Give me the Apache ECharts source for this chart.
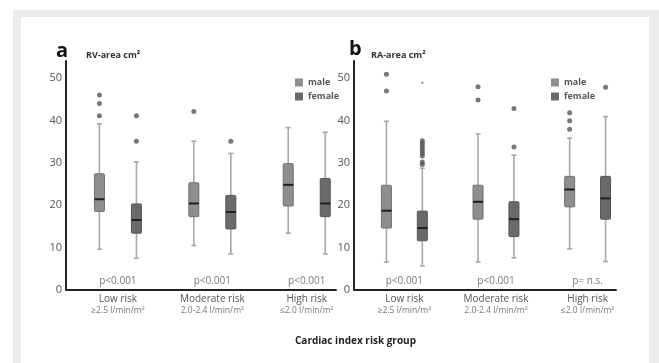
<!DOCTYPE html>
<html lang="en">
<head>
<meta charset="UTF-8">
<title>RV / RA area by cardiac index risk group</title>
<script src="https://cdn.jsdelivr.net/npm/echarts@6/dist/echarts.min.js"></script>
<style>
  html, body { margin: 0; padding: 0; background: #fff; }
  #main { width: 659px; height: 363px; }
</style>
</head>
<body>
<div id="main"></div>
<script type="text/javascript">
"use strict";

var groups = ['Low risk', 'Moderate risk', 'High risk'];
var groupSub = ['≥2.5 l/min/m²', '2.0-2.4 l/min/m²', '≤2.0 l/min/m²'];
var yTicks = [0, 10, 20, 30, 40, 50];

// [min, Q1, median, Q3, max] per risk group
var rvMale = [
    [9.6, 18.5, 21.4, 27.4, 39.2],
    [10.5, 17.3, 20.4, 25.3, 35.1],
    [13.4, 19.8, 24.8, 29.8, 38.3]
];
var rvFemale = [
    [7.5, 13.4, 16.5, 20.3, 30.2],
    [8.5, 14.4, 18.4, 22.3, 32.2],
    [8.5, 17.3, 20.4, 26.3, 37.2]
];
var raMale = [
    [6.6, 14.6, 18.7, 24.7, 39.8],
    [6.6, 16.7, 20.8, 24.7, 36.8],
    [9.7, 19.6, 23.7, 26.8, 35.8]
];
var raFemale = [
    [5.7, 11.6, 14.6, 18.6, 28.7],
    [7.6, 12.6, 16.7, 20.8, 31.8],
    [6.7, 16.7, 21.6, 26.8, 40.9]
];

// outliers: [group index, value]
var rvMaleOut = [[0, 46], [0, 44], [0, 41.1], [1, 42.1]];
var rvFemaleOut = [[0, 41.1], [0, 35.1], [1, 35.1]];
var raMaleOut = [[0, 50.9], [0, 46.9], [1, 47.9], [1, 44.8], [2, 41.8], [2, 39.9], [2, 37.9]];
var raFemaleOut = [[0, 35.2], [0, 34.6], [0, 34.0], [0, 33.4], [0, 32.8], [0, 32.2], [0, 31.6],
    [0, 30.2], [0, 29.6], [1, 33.7], [1, 42.8], [2, 47.8]];
var raFemaleExtreme = [[0, 48.9]];

var rvP = ['p<0.001', 'p<0.001', 'p<0.001'];
var raP = ['p<0.001', 'p<0.001', 'p= n.s.'];

var maleColor = '#8e8e8e';
var femaleColor = '#6a6a6a';
var shift = 0.196;

function boxSeries(name, stats, offset, color, border, idx) {
    return {
        name: name,
        type: 'custom',
        xAxisIndex: idx,
        yAxisIndex: idx,
        itemStyle: { color: color },
        data: stats.map(function (s, g) {
            return [g + offset].concat(s);
        }),
        encode: { x: 0, y: [1, 2, 3, 4, 5] },
        renderItem: function (params, api) {
            var x = api.value(0);
            var pMin = api.coord([x, api.value(1)]);
            var pQ1 = api.coord([x, api.value(2)]);
            var pMed = api.coord([x, api.value(3)]);
            var pQ3 = api.coord([x, api.value(4)]);
            var pMax = api.coord([x, api.value(5)]);
            var cx = pMin[0];
            var hw = 5, cap = 2.5;
            var wStyle = { stroke: '#a8a8a8', lineWidth: 1.6 };
            return {
                type: 'group',
                children: [
                    { type: 'line', shape: { x1: cx, y1: pMax[1], x2: cx, y2: pQ3[1] }, style: wStyle },
                    { type: 'line', shape: { x1: cx, y1: pQ1[1], x2: cx, y2: pMin[1] }, style: wStyle },
                    { type: 'line', shape: { x1: cx - cap, y1: pMax[1], x2: cx + cap, y2: pMax[1] }, style: wStyle },
                    { type: 'line', shape: { x1: cx - cap, y1: pMin[1], x2: cx + cap, y2: pMin[1] }, style: wStyle },
                    {
                        type: 'rect',
                        shape: { x: cx - hw, y: pQ3[1], width: hw * 2, height: pQ1[1] - pQ3[1], r: 1 },
                        style: { fill: color, stroke: border, lineWidth: 1 }
                    },
                    {
                        type: 'line',
                        shape: { x1: cx - hw, y1: pMed[1], x2: cx + hw, y2: pMed[1] },
                        style: { stroke: '#1e1e1e', lineWidth: 2 }
                    }
                ]
            };
        }
    };
}

function outlierSeries(points, offset, idx, size, color) {
    return {
        name: 'outlier',
        type: 'scatter',
        xAxisIndex: idx,
        yAxisIndex: idx,
        symbolSize: size,
        itemStyle: { color: color },
        data: points.map(function (p) { return [p[0] + offset, p[1]]; }),
        silent: true
    };
}

function pSeries(labels, idx) {
    return {
        name: 'p',
        type: 'scatter',
        xAxisIndex: idx,
        yAxisIndex: idx,
        symbolSize: 1,
        itemStyle: { color: 'rgba(0,0,0,0)' },
        label: {
            show: true,
            position: 'inside',
            formatter: function (p) { return labels[p.dataIndex]; },
            color: '#555',
            fontSize: 10,
            fontFamily: 'Open Sans'
        },
        data: labels.map(function (l, g) { return [g, 2]; }),
        silent: true
    };
}

function xAxisDef(idx) {
    return {
        type: 'value',
        gridIndex: idx,
        min: -0.55,
        max: 2.31,
        splitLine: { show: false },
        axisTick: { show: false },
        axisLine: { show: true, onZero: false, lineStyle: { color: '#222', width: 2 } },
        axisLabel: {
            customValues: [0, 1, 2],
            margin: 4,
            formatter: function (v) {
                var g = Math.round(v);
                return '{a|' + groups[g] + '}\n{b|' + groupSub[g] + '}';
            },
            rich: {
                a: { fontSize: 10, color: '#555', fontFamily: 'Open Sans', lineHeight: 11 },
                b: { fontSize: 8.5, color: '#777', fontFamily: 'Open Sans', lineHeight: 11 }
            }
        }
    };
}

function yAxisDef(idx) {
    return {
        type: 'value',
        gridIndex: idx,
        min: 0,
        max: 54,
        interval: 10,
        splitLine: { show: false },
        axisTick: { show: false },
        axisLine: { show: true, onZero: false, lineStyle: { color: '#222', width: 2 } },
        axisLabel: {
            showMaxLabel: false,
            margin: 4,
            color: '#555',
            fontSize: 11,
            fontFamily: 'Open Sans',
            formatter: function (v) { return yTicks.indexOf(v) >= 0 ? String(v) : ''; }
        }
    };
}

var chart = echarts.init(document.getElementById('main'), null, { renderer: 'canvas' });

var titleStyle = { fontFamily: 'Open Sans', fontWeight: 'bold', color: '#333', fontSize: 9 };

var option = {
    animation: false,
    backgroundColor: '#fff',
    textStyle: { fontFamily: 'Open Sans' },
    graphic: [
        { type: 'rect', z: -10, shape: { x: 13, y: 10, width: 646, height: 353 }, style: { fill: '#ececec' } },
        { type: 'rect', z: -9, shape: { x: 21, y: 17, width: 628, height: 346 }, style: { fill: '#ffffff' } }
    ],
    title: [
        { text: 'a', left: 51, top: 36, textStyle: { fontFamily: 'Open Sans', fontWeight: 'bold', fontSize: 20, color: '#111' } },
        { text: 'RV-area cm²', left: 81, top: 46, textStyle: titleStyle },
        { text: 'b', left: 344, top: 34, textStyle: { fontFamily: 'Open Sans', fontWeight: 'bold', fontSize: 20, color: '#111' } },
        { text: 'RA-area cm²', left: 366, top: 46, textStyle: titleStyle },
        { text: 'Cardiac index risk group', left: 290, top: 331,
          textStyle: { fontFamily: 'Open Sans', fontWeight: 'bold', color: '#222', fontSize: 10 } }
    ],
    legend: [
        {
            data: ['male', 'female'], orient: 'vertical', left: 290, top: 73,
            itemWidth: 8, itemHeight: 8, itemGap: 5, icon: 'rect',
            textStyle: { fontSize: 9, fontWeight: 'bold', color: '#555', fontFamily: 'Open Sans' }
        },
        {
            data: ['male', 'female'], orient: 'vertical', left: 546, top: 73,
            itemWidth: 8, itemHeight: 8, itemGap: 5, icon: 'rect',
            textStyle: { fontSize: 9, fontWeight: 'bold', color: '#555', fontFamily: 'Open Sans' }
        }
    ],
    grid: [
        { left: 66, top: 61, width: 270, height: 229 },
        { left: 354, top: 61, width: 262, height: 229 }
    ],
    xAxis: [xAxisDef(0), xAxisDef(1)],
    yAxis: [yAxisDef(0), yAxisDef(1)],
    series: [
        boxSeries('male', rvMale, -shift, maleColor, '#707070', 0),
        boxSeries('female', rvFemale, shift, femaleColor, '#555', 0),
        boxSeries('male', raMale, -shift, maleColor, '#707070', 1),
        boxSeries('female', raFemale, shift, femaleColor, '#555', 1),
        outlierSeries(rvMaleOut, -shift, 0, 5, '#555'),
        outlierSeries(rvFemaleOut, shift, 0, 5, '#555'),
        outlierSeries(raMaleOut, -shift, 1, 5, '#555'),
        outlierSeries(raFemaleOut, shift, 1, 5, '#555'),
        outlierSeries(raFemaleExtreme, shift, 1, 2.5, '#888'),
        pSeries(rvP, 0),
        pSeries(raP, 1)
    ]
};

chart.setOption(option);
</script>
</body>
</html>
